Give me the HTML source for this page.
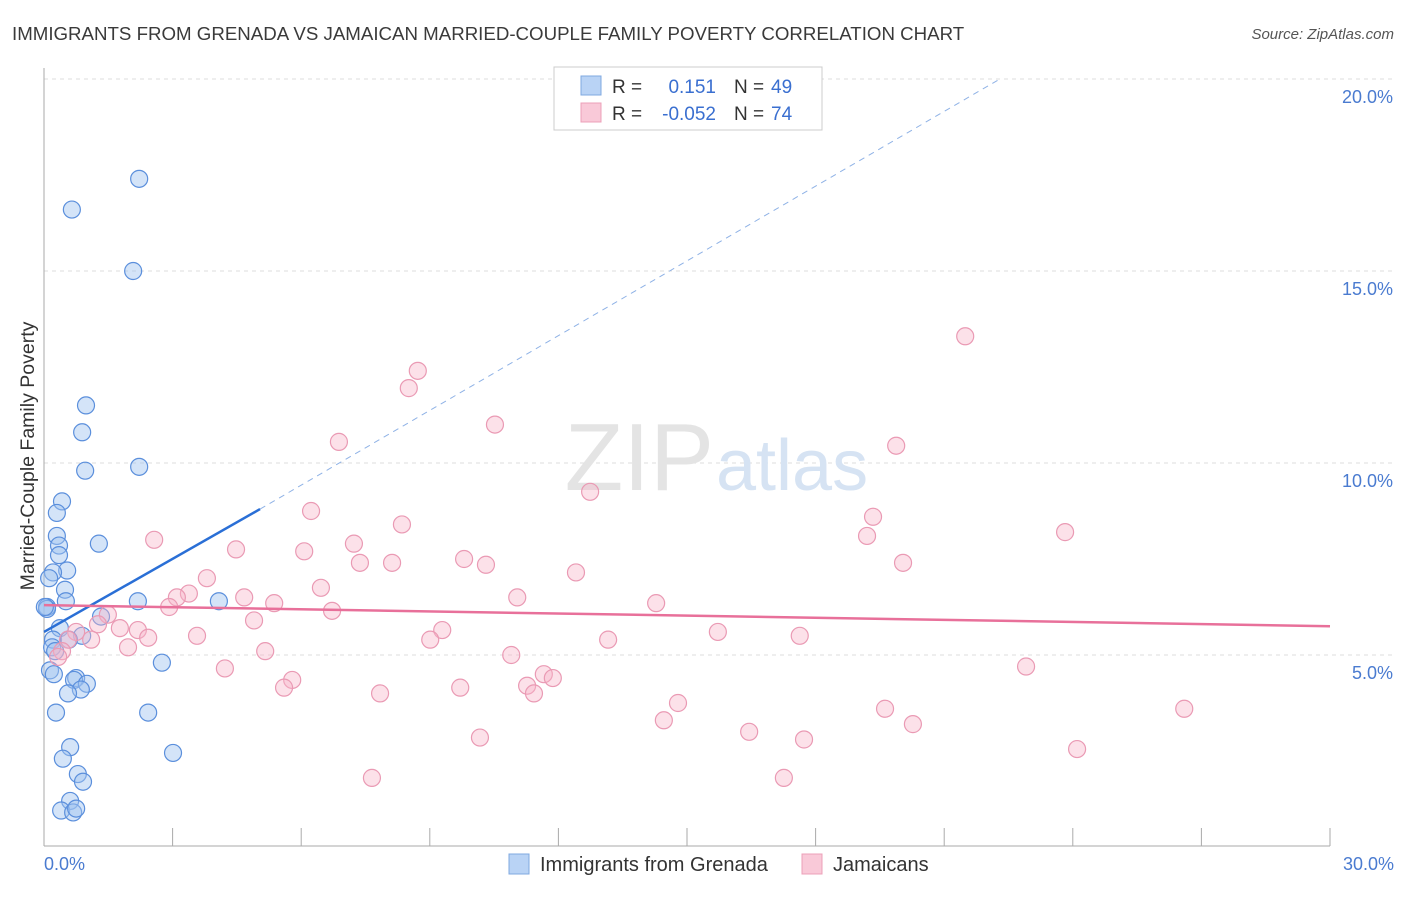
<!DOCTYPE html>
<html><head><meta charset="utf-8"><style>
body{margin:0;background:#fff;font-family:"Liberation Sans",sans-serif;}
svg text{font-family:"Liberation Sans",sans-serif;}
</style></head><body>
<svg width="1406" height="892" viewBox="0 0 1406 892">
<text x="12" y="40" font-size="18.7" fill="#3a3a3a">IMMIGRANTS FROM GRENADA VS JAMAICAN MARRIED-COUPLE FAMILY POVERTY CORRELATION CHART</text>
<text x="1394" y="39" font-size="15" fill="#555" font-style="italic" text-anchor="end">Source: ZipAtlas.com</text>
<g id="grid"></g>
<text x="714" y="490" font-size="96" fill="#e4e4e4" font-family="Liberation Serif" text-anchor="end">ZIP</text>
<text x="716" y="490" font-size="72" fill="#d6e3f3">atlas</text>
<line x1="44" y1="68" x2="44" y2="846" stroke="#aaa"/>
<line x1="44" y1="846" x2="1330" y2="846" stroke="#aaa"/>
<text transform="translate(34,456) rotate(-90)" font-size="19.5" fill="#333" text-anchor="middle">Married-Couple Family Poverty</text>
<text x="44" y="870" font-size="18" fill="#4a7bd0">0.0%</text>
<text x="1394" y="870" font-size="18" fill="#4a7bd0" text-anchor="end">30.0%</text>
<g id="pts"></g>
<g id="trends"></g>
<g>
<rect x="554" y="67" width="268" height="63" fill="#fff" stroke="#ccc"/>
<rect x="581" y="76" width="20" height="19" fill="#b9d3f5" stroke="#7fa8e0"/>
<rect x="581" y="103" width="20" height="19" fill="#f9c9d8" stroke="#eca0b8"/>
<text x="612" y="93" font-size="19" fill="#333">R = </text><text x="716" y="93" font-size="19" fill="#3a6fd0" text-anchor="end">0.151</text>
<text x="734" y="93" font-size="19" fill="#333">N = </text><text x="771" y="93" font-size="19" fill="#3a6fd0">49</text>
<text x="612" y="120" font-size="19" fill="#333">R = </text><text x="716" y="120" font-size="19" fill="#3a6fd0" text-anchor="end">-0.052</text>
<text x="734" y="120" font-size="19" fill="#333">N = </text><text x="771" y="120" font-size="19" fill="#3a6fd0">74</text>
</g>
<g>
<rect x="509" y="854" width="20" height="20" fill="#b9d3f5" stroke="#7fa8e0"/>
<text x="540" y="871" font-size="20" fill="#333">Immigrants from Grenada</text>
<rect x="802" y="854" width="20" height="20" fill="#f9c9d8" stroke="#eca0b8"/>
<text x="833" y="871" font-size="20" fill="#333">Jamaicans</text>
</g>
</svg>
<script>
const yTicks=[5,10,15,20];
const xTicks=[0,3,6,9,12,15,18,21,24,27,30];
const blueX=[2.22,0.65,2.08,0.98,0.89,0.96,2.22,0.42,0.30,0.30,1.28,0.35,0.35,0.54,0.21,0.12,0.49,0.07,0.51,2.19,4.08,1.33,0.07,0.37,0.21,0.89,0.58,0.19,0.26,0.14,0.23,2.75,0.75,0.70,1.00,0.86,0.56,0.28,2.43,0.61,0.44,0.79,0.91,3.01,0.61,0.40,0.68,0.75,0.02];
const blueY=[17.4,16.6,15.0,11.5,10.8,9.8,9.9,9.0,8.7,8.1,7.9,7.85,7.6,7.2,7.15,7.0,6.7,6.25,6.4,6.4,6.4,6.0,6.2,5.7,5.4,5.5,5.4,5.2,5.1,4.6,4.5,4.8,4.4,4.35,4.25,4.1,4.0,3.5,3.5,2.6,2.3,1.9,1.7,2.45,1.2,0.95,0.9,1.0,6.25];
const pinkX=[21.49,8.72,8.51,10.52,6.88,19.88,12.74,6.23,19.34,8.35,19.20,23.82,2.57,4.48,7.23,6.07,9.80,7.37,8.12,10.31,20.04,12.41,3.80,6.46,3.38,3.10,4.67,11.04,2.92,5.37,14.28,6.72,1.49,4.90,1.26,1.77,2.19,0.75,3.57,15.72,17.63,2.43,1.10,13.16,9.29,9.01,1.96,5.16,0.56,0.42,0.33,10.90,22.91,4.22,11.66,11.87,5.79,11.27,5.60,9.71,7.84,11.43,14.79,19.62,26.60,14.46,20.27,16.45,17.73,10.17,24.10,7.65,17.26];
const pinkY=[13.3,12.4,11.95,11.0,10.55,10.45,9.25,8.75,8.6,8.4,8.1,8.2,8.0,7.75,7.9,7.7,7.5,7.4,7.4,7.35,7.4,7.15,7.0,6.75,6.6,6.5,6.5,6.5,6.25,6.35,6.35,6.15,6.05,5.9,5.8,5.7,5.65,5.6,5.5,5.6,5.5,5.45,5.4,5.4,5.65,5.4,5.2,5.1,5.4,5.1,4.95,5.0,4.7,4.65,4.5,4.4,4.35,4.2,4.15,4.15,4.0,4.0,3.75,3.6,3.6,3.3,3.2,3.0,2.8,2.85,2.55,1.8,1.8];
const blueTrend=[[0,5.6],[5.04,8.8]];
const blueDash=[[5.04,8.8],[22.3,20.0]];
const pinkTrend=[[0,6.3],[30,5.75]];
const NS="http://www.w3.org/2000/svg";
function sx(v){return 44+v/30*1286;}
function sy(v){return 847-v/5*192;}
function mk(t,a,p){const e=document.createElementNS(NS,t);for(const k in a)e.setAttribute(k,a[k]);p.appendChild(e);return e;}
const grid=document.getElementById('grid');
yTicks.forEach(t=>{
 const l=mk('line',{x1:44,x2:1394,y1:sy(t),y2:sy(t),stroke:'#ddd','stroke-dasharray':'4,4'},grid);
 
 
 const tx=mk('text',{x:1393,y:sy(t)+24,'font-size':18,fill:'#4a7bd0','text-anchor':'end'},grid);
 tx.textContent=t.toFixed(1)+'%';
 
 
});
xTicks.forEach(t=>{
 const l=mk('line',{x1:sx(t),x2:sx(t),y1:828,y2:846,stroke:'#aaa'},grid);
 
 
});
const pts=document.getElementById('pts');
blueX.forEach((x,i)=>{
 const c=mk('circle',{cx:sx(x),cy:sy(blueY[i]),r:8.5,fill:'rgba(160,195,240,0.45)',stroke:'#5b8fdc','stroke-width':1.2},pts);
 
 
});
pinkX.forEach((x,i)=>{
 const c=mk('circle',{cx:sx(x),cy:sy(pinkY[i]),r:8.5,fill:'rgba(248,180,200,0.4)',stroke:'#ea9ab4','stroke-width':1.2},pts);
 
 
});
const tr=document.getElementById('trends');
let l1=mk('line',{x1:sx(blueTrend[0][0]),y1:sy(blueTrend[0][1]),x2:sx(blueTrend[1][0]),y2:sy(blueTrend[1][1]),stroke:'#2a6fd6','stroke-width':2.5},tr);


let l2=mk('line',{x1:sx(blueDash[0][0]),y1:sy(blueDash[0][1]),x2:sx(blueDash[1][0]),y2:sy(blueDash[1][1]),stroke:'#8fb2e6','stroke-width':1,'stroke-dasharray':'6,5'},tr);


let l3=mk('line',{x1:sx(pinkTrend[0][0]),y1:sy(pinkTrend[0][1]),x2:sx(pinkTrend[1][0]),y2:sy(pinkTrend[1][1]),stroke:'#e8709a','stroke-width':2.5},tr);


</script>
</body></html>
